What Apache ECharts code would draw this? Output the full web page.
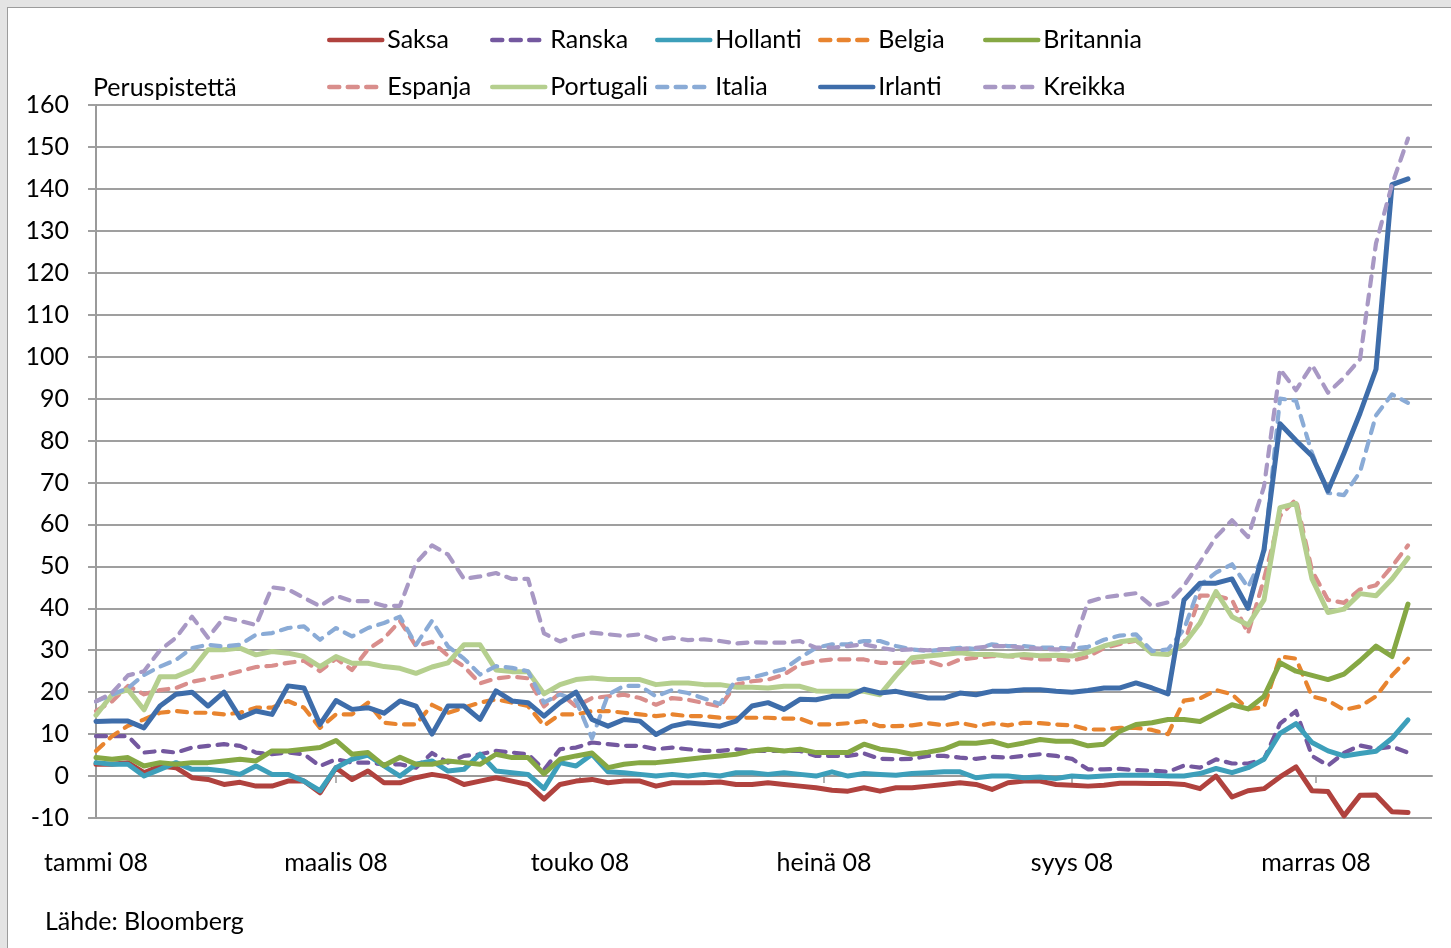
<!DOCTYPE html>
<html><head><meta charset="utf-8">
<script src="https://cdn.jsdelivr.net/npm/echarts@6/dist/echarts.min.js"></script>
<style>
html,body{margin:0;padding:0;background:#e4e4e4;overflow:hidden}
#frame{position:absolute;left:7px;top:7px;width:1470px;height:970px;background:#fff;border:1px solid #9c9c9c}
#chart{position:absolute;left:0;top:0;width:1451px;height:948px}
</style></head><body>
<div id="frame"></div><div id="chart"></div>
<script>
// ---- data (basis points), sampled every 4 days ----
const dates = ['2008-01-01','2008-01-05','2008-01-09','2008-01-13','2008-01-17','2008-01-21','2008-01-25','2008-01-29','2008-02-02','2008-02-06',
'2008-02-10','2008-02-14','2008-02-18','2008-02-22','2008-02-26','2008-03-01','2008-03-05','2008-03-09','2008-03-13','2008-03-17',
'2008-03-21','2008-03-25','2008-03-29','2008-04-02','2008-04-06','2008-04-10','2008-04-14','2008-04-18','2008-04-22','2008-04-26',
'2008-04-30','2008-05-04','2008-05-08','2008-05-12','2008-05-16','2008-05-20','2008-05-24','2008-05-28','2008-06-01','2008-06-05',
'2008-06-09','2008-06-13','2008-06-17','2008-06-21','2008-06-25','2008-06-29','2008-07-03','2008-07-07','2008-07-11','2008-07-15',
'2008-07-19','2008-07-23','2008-07-27','2008-07-31','2008-08-04','2008-08-08','2008-08-12','2008-08-16','2008-08-20','2008-08-24',
'2008-08-28','2008-09-01','2008-09-05','2008-09-09','2008-09-13','2008-09-17','2008-09-21','2008-09-25','2008-09-29','2008-10-03',
'2008-10-07','2008-10-11','2008-10-15','2008-10-19','2008-10-23','2008-10-27','2008-10-31','2008-11-04','2008-11-08','2008-11-12',
'2008-11-16','2008-11-20','2008-11-24'];

const saksa = [2.8,2.8,3.2,0.8,2.4,2.0,-0.4,-0.8,-2.0,-1.5, -2.4,-2.4,-1.2,-1.2,-4.0,2.0,-0.8,1.2,-1.6,-1.6,
-0.4,0.4,-0.2,-2.0,-1.2,-0.4,-1.2,-2.0,-5.5,-2.0, -1.2,-0.8,-1.6,-1.2,-1.2,-2.4,-1.6,-1.6,-1.6,-1.4,
-2.0,-2.0,-1.6,-2.0,-2.4,-2.8,-3.4,-3.6,-2.8,-3.6, -2.8,-2.8,-2.4,-2.0,-1.6,-2.0,-3.2,-1.6,-1.2,-1.2,
-2.0,-2.2,-2.4,-2.2,-1.7,-1.7,-1.8,-1.8,-2.0,-3.0, 0.0,-5.0,-3.5,-3.0,-0.2,2.2,-3.5,-3.7,-9.5,-4.6, -4.5,-8.5,-8.7];
const ranska = [9.5,9.5,9.5,5.6,6.0,5.6,6.8,7.2,7.6,7.2, 5.6,5.2,5.6,5.2,2.4,4.0,3.2,3.2,2.8,2.8,
2.0,5.5,3.2,4.8,5.2,6.0,5.6,5.2,1.5,6.4, 6.8,8.0,7.6,7.2,7.2,6.4,6.8,6.4,6.0,6.0,
6.4,6.0,6.0,6.0,6.0,4.8,4.8,4.8,5.4,4.1, 4.0,4.1,4.8,4.8,4.4,4.1,4.6,4.4,4.8,5.2,
4.8,4.1,1.6,1.6,1.7,1.4,1.3,1.0,2.5,2.0, 4.0,3.0,3.0,4.0,12.5,15.5,4.8,2.5,5.5,7.3, 6.5,7.0,5.6];
const hollanti = [3.2,2.8,2.8,0.0,1.6,3.2,1.6,1.6,1.2,0.4, 2.4,0.4,0.4,-1.2,-3.5,2.0,4.0,5.0,2.4,0.0,
2.8,3.6,1.2,1.6,5.2,1.2,0.8,0.4,-3.0,3.2, 2.4,5.2,1.0,0.8,0.4,0.0,0.4,0.0,0.4,0.0,
0.8,0.8,0.4,0.8,0.4,0.0,1.0,0.0,0.6,0.4, 0.2,0.6,0.8,1.0,1.0,-0.4,0.0,0.0,-0.4,-0.2,
-0.6,0.0,-0.2,0.0,0.2,0.2,0.2,0.0,0.0,0.6, 1.8,0.8,2.0,4.0,10.2,12.5,8.0,6.0,4.8,5.4, 5.9,9.0,13.4];
const belgia = [6.0,9.5,12.0,13.5,15.1,15.5,15.1,15.1,14.7,15.1, 16.3,16.3,17.9,16.3,11.5,14.7,14.7,17.5,12.7,12.3,
12.3,17.0,15.1,16.3,17.5,18.3,17.5,16.7,12.0,14.7, 14.7,15.5,15.5,15.1,14.7,14.3,14.7,14.3,14.3,13.9,
13.9,13.9,13.9,13.7,13.7,12.3,12.3,12.6,13.1,11.9, 11.9,12.1,12.6,12.1,12.7,11.9,12.6,12.1,12.7,12.6,
12.3,12.1,11.1,11.1,11.5,11.5,11.0,10.0,18.0,18.5, 20.5,19.5,16.0,16.4,28.5,28.0,19.0,18.0,15.8,16.6, 19.0,24.0,28.0];
const britannia = [4.4,4.0,4.4,2.4,3.2,2.8,3.2,3.2,3.6,4.0, 3.6,6.0,6.0,6.4,6.8,8.5,5.2,5.6,2.5,4.5,
2.8,2.8,3.6,3.2,2.8,5.2,4.4,4.4,0.5,4.0, 4.8,5.5,2.0,2.8,3.2,3.2,3.6,4.0,4.4,4.8,
5.2,6.0,6.4,6.0,6.4,5.6,5.6,5.6,7.6,6.4, 6.0,5.2,5.7,6.4,7.9,7.8,8.3,7.2,7.9,8.7,
8.3,8.3,7.2,7.6,10.7,12.3,12.7,13.5,13.5,13.0, 15.0,17.0,16.0,19.0,27.0,25.0,24.0,23.0,24.3,27.5, 31.0,28.5,41.0];
const espanja = [15.5,17.8,21.5,19.5,20.5,21.0,22.5,23.2,24.0,25.0, 26.0,26.3,27.0,27.5,25.0,28.0,25.3,30.2,32.8,37.0,
31.0,32.0,28.7,26.1,22.1,23.3,23.7,23.3,16.6,19.8, 16.6,18.6,19.0,19.4,18.6,17.0,18.6,18.2,17.4,16.6,
21.8,22.6,23.0,24.2,26.6,27.4,27.8,27.8,27.8,27.0, 27.0,27.0,27.4,26.2,27.8,28.2,28.6,28.6,28.2,27.8,
27.8,27.5,28.5,30.5,31.5,32.3,29.4,29.0,31.5,43.0, 43.0,42.0,34.0,47.0,62.0,66.0,49.0,42.0,41.3,44.5, 45.5,50.0,55.0];
const portugali = [14.5,19.4,20.6,15.8,23.7,23.7,25.3,30.1,30.1,30.5, 28.9,29.7,29.3,28.5,26.1,28.5,26.9,26.9,26.1,25.7,
24.5,26.0,27.0,31.3,31.3,25.3,24.9,24.9,19.6,21.8, 23.0,23.4,23.0,23.0,23.0,21.8,22.2,22.2,21.8,21.8,
21.2,21.2,21.0,21.4,21.4,20.3,20.2,20.2,20.2,19.4, 24.0,28.2,28.6,29.0,29.4,29.0,29.0,28.6,29.0,28.7,
28.8,28.6,29.5,31.0,32.0,32.5,29.2,29.0,31.5,36.5, 44.0,38.0,36.0,42.0,64.0,65.0,47.0,39.0,39.8,43.5, 43.0,47.0,52.0];
const italia = [17.8,19.4,21.0,24.1,26.1,27.7,30.5,31.3,30.9,31.3, 33.7,34.1,35.3,35.7,32.5,35.3,33.3,35.3,36.5,38.0,
31.3,37.0,30.9,28.0,24.2,26.2,25.8,25.0,17.5,19.5, 18.0,9.0,19.4,21.5,21.5,19.0,20.5,19.8,18.5,17.2,
23.0,23.5,24.5,25.5,28.2,30.6,31.4,31.4,32.2,32.2, 31.0,30.2,29.8,30.2,30.6,30.3,31.4,31.0,31.0,30.6,
30.6,30.4,30.8,32.5,33.5,33.8,29.8,30.2,35.0,45.5, 48.5,50.5,45.0,53.0,90.0,89.5,77.0,67.5,67.0,72.5, 86.0,91.0,89.0];
const irlanti = [13.0,13.1,13.1,11.5,16.7,19.5,20.0,16.7,20.0,13.9, 15.5,14.7,21.5,21.0,12.3,18.0,15.9,16.3,15.0,17.9,
16.7,10.0,16.7,16.7,13.5,20.3,17.9,17.5,14.3,17.5, 20.0,13.5,11.9,13.5,13.1,9.9,11.9,12.7,12.3,11.9,
13.1,16.7,17.5,15.9,18.3,18.2,19.0,19.0,20.7,19.8, 20.2,19.4,18.6,18.6,19.8,19.4,20.2,20.2,20.6,20.6,
20.2,20.0,20.4,21.0,21.0,22.2,21.0,19.6,42.0,46.0, 46.0,47.0,40.0,54.0,84.0,80.0,76.3,68.0,77.0,86.5, 97.0,141.0,142.4];
const kreikka = [17.8,19.8,24.0,25.0,30.0,33.0,38.0,33.0,37.8,37.0, 36.0,45.0,44.5,42.5,40.5,43.0,41.7,41.7,40.6,40.6,
50.8,55.0,52.8,47.0,47.6,48.4,47.0,47.0,34.0,32.1, 33.4,34.2,33.8,33.4,33.8,32.4,33.0,32.4,32.6,32.2,
31.6,31.9,31.8,31.8,32.2,30.6,30.6,31.0,31.4,30.6, 30.0,30.2,30.0,30.3,30.3,30.6,31.0,31.0,30.6,30.4,
30.2,30.2,41.5,42.6,43.1,43.6,40.5,41.4,45.4,51.0, 57.0,61.0,57.0,69.0,97.0,92.0,98.0,91.4,95.0,99.4, 127.0,141.0,152.0];

const tickDates = ['2008-01-01','2008-03-01','2008-05-01','2008-07-01','2008-09-01','2008-11-01'];
const tickLabels = ['tammi 08','maalis 08','touko 08','heinä 08','syys 08','marras 08'];
const axisStart = '2008-01-01';
const axisEnd = '2008-11-30';
const yMin = -10, yMax = 160, yStep = 10;
const yTitle = 'Peruspistettä';
const sourceText = 'Lähde: Bloomberg';

// ---- styling ----
const FONT = 'Lato, "Open Sans", sans-serif';
const toTs = s => { const p = s.split('-').map(Number); return Date.UTC(p[0], p[1] - 1, p[2]); };
const dayOf = s => Math.round((toTs(s) - toTs(axisStart)) / 86400000);
const xs = dates.map(dayOf);
const tickDays = tickDates.map(dayOf);
const xMax = dayOf(axisEnd);

const defs = [
  { name: 'Saksa', data: saksa, color: '#B0423E', dash: false },
  { name: 'Ranska', data: ranska, color: '#74589F', dash: true },
  { name: 'Hollanti', data: hollanti, color: '#3D9FBA', dash: false },
  { name: 'Belgia', data: belgia, color: '#E8842F', dash: true },
  { name: 'Britannia', data: britannia, color: '#86A844', dash: false },
  { name: 'Espanja', data: espanja, color: '#D98E8C', dash: true },
  { name: 'Portugali', data: portugali, color: '#B5CF8E', dash: false },
  { name: 'Italia', data: italia, color: '#8AABD6', dash: true },
  { name: 'Irlanti', data: irlanti, color: '#3E6DAA', dash: false },
  { name: 'Kreikka', data: kreikka, color: '#A898C4', dash: true }
];

const SOLID_W = 5, DASH_W = 4.2;
const series = defs.map(d => ({
  name: d.name,
  type: 'line',
  xAxisIndex: 0,
  yAxisIndex: 0,
  data: xs.map((t, i) => [t, d.data[i]]),
  symbol: 'none',
  showSymbol: false,
  animation: false,
  emphasis: { disabled: true },
  itemStyle: { color: d.color },
  lineStyle: { color: d.color, width: d.dash ? DASH_W : SOLID_W, type: d.dash ? [10, 8.5] : 'solid', cap: 'round', join: 'round' }
}));

const legendCols = [['Saksa', 'Espanja'], ['Ranska', 'Portugali'], ['Hollanti', 'Italia'], ['Belgia', 'Irlanti'], ['Britannia', 'Kreikka']];
const legendLeft = [327, 490, 655, 818, 983];

const chart = echarts.init(document.getElementById('chart'), null, { renderer: 'canvas' });
chart.setOption({
  backgroundColor: 'transparent',
  animation: false,
  textStyle: { fontFamily: FONT },
  grid: { left: 96, right: 19, top: 105, bottom: 130, containLabel: false },
  legend: legendCols.map((names, k) => ({
    data: names,
    left: legendLeft[k],
    top: 25,
    orient: 'vertical',
    padding: 0,
    itemWidth: 53,
    itemHeight: 14,
    itemGap: 17,
    selectedMode: false,
    itemStyle: { color: 'rgba(0,0,0,0)', borderWidth: 0, opacity: 0 },
    lineStyle: { width: 4.5, type: 'inherit' },
    textStyle: { fontFamily: FONT, fontSize: 25, color: '#000', lineHeight: 30 }
  })),
  xAxis: [
    {
      type: 'value', min: 0, max: xMax, position: 'bottom',
      axisLine: { show: true, onZero: true, lineStyle: { color: '#9a9a9a', width: 2 } },
      axisTick: { show: true, customValues: tickDays, length: 7, lineStyle: { color: '#9a9a9a', width: 1.5 } },
      axisLabel: { show: false },
      splitLine: { show: false }
    },
    {
      type: 'value', min: 0, max: xMax, position: 'bottom',
      axisLine: { show: false, onZero: false },
      axisTick: { show: false },
      splitLine: { show: false },
      axisLabel: {
        show: true, customValues: tickDays, margin: 32,
        fontFamily: FONT, fontSize: 25, color: '#000',
        formatter: v => { const k = tickDays.indexOf(v); return k >= 0 ? tickLabels[k] : ''; }
      }
    }
  ],
  yAxis: {
    type: 'value', min: yMin, max: yMax, interval: yStep,
    axisLine: { show: true, lineStyle: { color: '#9a9a9a', width: 2 } },
    axisTick: { show: true, length: 8, lineStyle: { color: '#9f9f9f', width: 2 } },
    splitLine: { show: true, lineStyle: { color: '#9f9f9f', width: 2 } },
    axisLabel: { fontFamily: FONT, fontSize: 25, color: '#000', margin: 27 }
  },
  graphic: [
    { type: 'text', left: 93, top: 75, style: { text: yTitle, font: '25px ' + FONT, fill: '#000' } },
    { type: 'text', left: 45, top: 909, style: { text: sourceText, font: '25px ' + FONT, fill: '#000' } }
  ],
  series: series
});
</script>
</body></html>
